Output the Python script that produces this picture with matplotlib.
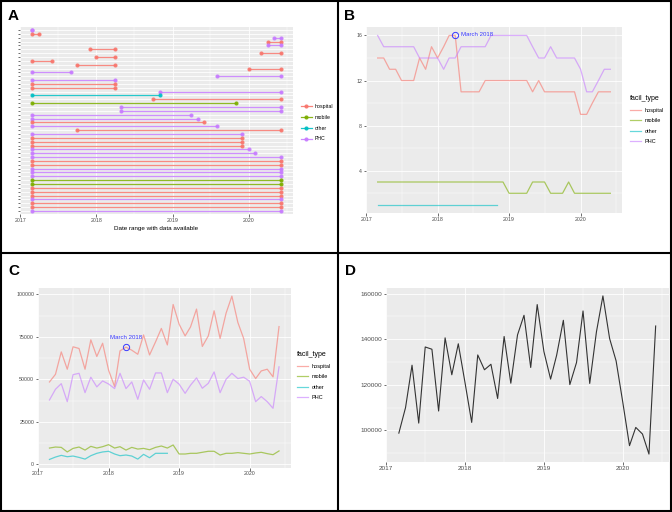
import matplotlib
matplotlib.use('Agg')
import matplotlib.pyplot as plt
import matplotlib.dates as mdates
from matplotlib.lines import Line2D
from matplotlib.patches import Rectangle
from matplotlib.ticker import MultipleLocator, FixedLocator, NullFormatter
import pandas as pd

plt.rcParams['font.family'] = ['Liberation Sans', 'DejaVu Sans']

months = pd.date_range('2017-03-01', periods=40, freq='MS')
facil_types = ['hospital', 'mobile', 'other', 'PHC']
colors = {'hospital': '#F8766D', 'mobile': '#7CAE00', 'other': '#00BFC4', 'PHC': '#C77CFF'}

# panel A: one row per facility, top to bottom
row_type = ['PHC', 'hospital', 'PHC', 'hospital', 'PHC', 'hospital', 'hospital', 'hospital',
            'hospital', 'hospital', 'hospital', 'PHC', 'PHC', 'PHC', 'hospital', 'hospital',
            'PHC', 'other', 'hospital', 'mobile', 'PHC', 'PHC', 'PHC', 'PHC',
            'hospital', 'PHC', 'hospital', 'PHC', 'hospital', 'hospital', 'hospital', 'PHC',
            'PHC', 'PHC', 'hospital', 'hospital', 'PHC', 'PHC', 'PHC', 'mobile',
            'mobile', 'hospital', 'hospital', 'hospital', 'PHC', 'hospital', 'hospital', 'PHC']
row_start = ['2017-03', '2017-03', '2020-05', '2020-04', '2020-04', '2017-12', '2020-03', '2018-01',
             '2017-03', '2017-10', '2020-01', '2017-03', '2019-08', '2017-03', '2017-03', '2017-03',
             '2018-11', '2017-03', '2018-10', '2017-03', '2018-05', '2018-05', '2017-03', '2017-03',
             '2017-03', '2017-03', '2017-10', '2017-03', '2017-03', '2017-03', '2017-03', '2017-03',
             '2017-03', '2017-03', '2017-03', '2017-03', '2017-03', '2017-03', '2017-03', '2017-03',
             '2017-03', '2017-03', '2017-03', '2017-03', '2017-03', '2017-03', '2017-03', '2017-03']
row_end = ['2017-03', '2017-04', '2020-06', '2020-06', '2020-06', '2018-04', '2020-06', '2018-04',
           '2017-06', '2018-04', '2020-06', '2017-09', '2020-06', '2018-04', '2018-04', '2018-04',
           '2020-06', '2018-11', '2020-06', '2019-11', '2020-06', '2020-06', '2019-04', '2019-05',
           '2019-06', '2019-08', '2020-06', '2019-12', '2019-12', '2019-12', '2019-12', '2020-01',
           '2020-02', '2020-06', '2020-06', '2020-06', '2020-06', '2020-06', '2020-06', '2020-06',
           '2020-06', '2020-06', '2020-06', '2020-06', '2020-06', '2020-06', '2020-06', '2020-06']

# panel B: number of facilities reporting
n_hospital = [14, 14, 13, 13, 12, 12, 12, 14, 13, 15,
              14, 15, 16, 16, 11, 11, 11, 11, 12, 12, 12, 12,
              12, 12, 12, 12, 11, 12, 11, 11, 11, 11, 11, 11,
              9, 9, 10, 11, 11, 11]
n_mobile = [3] * 22 + [2, 2, 2, 2, 3, 3, 3, 2, 2, 2, 3, 2] + [2] * 6
n_other = [1] * 21
n_phc = [16, 15, 15, 15, 15, 15, 15, 14, 14, 14,
         14, 13, 14, 14, 15, 15, 15, 15, 15, 16, 16, 16,
         16, 16, 16, 16, 15, 14, 14, 15, 14, 14, 14, 14,
         13, 11, 11, 12, 13, 13]

# panel C: visits by facility type
v_hospital = [48500, 53000, 66200, 56000, 69200, 68200, 56000, 73300, 63500, 71300,
              55400, 45800, 66800, 69000, 67200, 64800, 76200, 64400, 72100, 80000, 70300, 94100,
              82500, 75600, 80900, 91400, 69400, 75600, 90400, 74100, 89000, 99000, 83500, 74100,
              56000, 50500, 55000, 56000, 51500, 81100]
v_mobile = [9600, 10200, 10000, 7300, 9400, 10200, 8400, 10600, 9600, 10400,
            11600, 9600, 10400, 8400, 10000, 9000, 9400, 8600, 10000, 10800, 9600, 11400,
            6100, 6100, 6500, 6500, 7100, 7700, 7700, 5500, 6500, 6500, 6900, 6500,
            6100, 6700, 7100, 6300, 5700, 7900]
v_other = [2900, 4300, 5300, 4500, 4900, 4100, 3100, 5100, 6500, 7300,
           7700, 6100, 5100, 5500, 4900, 3100, 5900, 3900, 6500, 6500, 6500]
v_phc = [37900, 44200, 47500, 36900, 52800, 53600, 42200, 51300, 45600, 49100,
         47300, 44600, 53600, 44600, 48500, 38300, 49700, 44200, 53800, 53800, 42200, 50100,
         47200, 41800, 46600, 50900, 44800, 47700, 54400, 42200, 50100, 53600, 50500, 51300,
         48900, 36900, 39900, 36900, 33000, 57400]

# panel D: total visits
v_total = [98800, 110000, 128600, 103200, 136600, 135600, 108500, 140600, 124400, 138000,
           121000, 103500, 133100, 126600, 129000, 114000, 141200, 120700, 141900, 150500, 127600, 155200,
           134600, 122500, 133000, 148300, 120100, 129800, 152400, 120600, 143200, 159000, 140300, 130500,
           112300, 93300, 101300, 98400, 89600, 145800]

mark_idx = 13
mark_label = 'March 2018'
mark_color = '#3838FF'

W, H = 672, 512
fig = plt.figure(figsize=(W / 100, H / 100), dpi=100)


def box(l, t, r, b):
    return [l / W, (H - b) / H, (r - l) / W, (b - t) / H]


def expand(lo, hi, f=0.05):
    d = (hi - lo) * f
    return lo - d, hi + d


x0 = mdates.date2num(months[0])
x1 = mdates.date2num(months[-1])
xlim = expand(x0, x1)


def gg(ax, ts):
    ax.set_facecolor('#EBEBEB')
    for s in ax.spines.values():
        s.set_visible(False)
    ax.set_axisbelow(True)
    ax.grid(True, which='major', color='white', lw=0.6)
    ax.grid(True, which='minor', color='white', lw=0.3)
    ax.tick_params(which='major', length=1.8, width=0.5, color='#333333',
                   labelsize=ts, labelcolor='#4D4D4D', pad=1)
    ax.tick_params(which='minor', length=0)
    ax.xaxis.set_major_locator(mdates.YearLocator())
    ax.xaxis.set_minor_locator(mdates.MonthLocator(bymonth=7))
    ax.xaxis.set_major_formatter(mdates.DateFormatter('%Y'))
    ax.set_xlim(xlim)


def legend(ax, x, y, fs, title=None, markers=False, spacing=1.0):
    hs = [Line2D([], [], color=colors[t], lw=0.9, alpha=0.6 if not markers else 0.9,
                 marker='o' if markers else None, ms=2) for t in facil_types]
    lg = ax.legend(hs, facil_types, loc='upper left', bbox_to_anchor=(x / W, 1 - y / H),
                   bbox_transform=fig.transFigure, frameon=False, fontsize=fs,
                   title=title, title_fontsize=fs + 1, handlelength=2.0,
                   labelspacing=spacing, borderaxespad=0, borderpad=0, handletextpad=0.6)
    if title:
        lg._legend_box.align = 'left'
    return lg


# ---- A ----
axA = fig.add_axes(box(20, 27, 293, 214))
gg(axA, 3.8)
for i, (t, s, e) in enumerate(zip(row_type, row_start, row_end)):
    d = pd.to_datetime([s, e])
    axA.plot(d, [i, i], color=colors[t], lw=0.9, alpha=0.85, marker='o', ms=2)
axA.set_ylim(len(row_type) - 1 + 0.8, -0.8)
axA.yaxis.set_major_locator(FixedLocator(range(len(row_type))))
axA.yaxis.set_major_formatter(NullFormatter())
axA.set_xlabel('Date range with data available', fontsize=4.5, labelpad=2)
legend(axA, 301, 104, 3.8, markers=True, spacing=1.1)

# ---- B ----
axB = fig.add_axes(box(366, 27, 622, 213))
gg(axB, 3.8)
for t, v in zip(facil_types, [n_hospital, n_mobile, n_other, n_phc]):
    axB.plot(months[:len(v)], v, color=colors[t], lw=0.9, alpha=0.6)
axB.set_ylim(expand(min(n_other + n_mobile), max(n_hospital + n_phc)))
axB.yaxis.set_major_locator(MultipleLocator(4))
axB.yaxis.set_minor_locator(MultipleLocator(2))
axB.plot(months[mark_idx], n_hospital[mark_idx], 'o', mfc='none', mec=mark_color, ms=4.5, mew=0.7)
axB.annotate(mark_label, (months[mark_idx], n_hospital[mark_idx]), xytext=(4, 1),
             textcoords='offset points', color=mark_color, fontsize=4.4, va='center')
legend(axB, 630, 95, 4, title='facil_type', spacing=1.0)

# ---- C ----
axC = fig.add_axes(box(38, 288, 290.5, 467.6))
gg(axC, 3.8)
for t, v in zip(facil_types, [v_hospital, v_mobile, v_other, v_phc]):
    axC.plot(months[:len(v)], v, color=colors[t], lw=0.9, alpha=0.6)
axC.set_ylim(expand(min(v_other), max(v_hospital)))
axC.yaxis.set_major_locator(MultipleLocator(25000))
axC.yaxis.set_minor_locator(MultipleLocator(12500))
axC.plot(months[mark_idx], v_hospital[mark_idx], 'o', mfc='none', mec=mark_color, ms=4.5, mew=0.7)
axC.annotate(mark_label, (months[mark_idx], v_hospital[mark_idx]), xytext=(0, 7),
             textcoords='offset points', color=mark_color, fontsize=4.4, ha='center', va='center')
legend(axC, 297, 351, 4, title='facil_type', spacing=1.0)

# ---- D ----
axD = fig.add_axes(box(386, 288, 668.5, 462))
gg(axD, 4.6)
axD.plot(months, v_total, color='#333333', lw=0.8)
axD.set_ylim(expand(min(v_total), max(v_total)))
axD.yaxis.set_major_locator(MultipleLocator(20000))
axD.yaxis.set_minor_locator(MultipleLocator(10000))

# panel letters and frames
for lab, x, y in [('A', 8, 9), ('B', 344, 9), ('C', 8, 264), ('D', 345, 264)]:
    fig.text(x / W, 1 - y / H, lab, fontsize=11, fontweight='bold', va='top', ha='left')

fig.add_artist(Rectangle((0.001, 0.001), 0.998, 0.997, transform=fig.transFigure,
                         fill=False, lw=1.5, ec='black'))
fig.add_artist(Line2D([338 / W, 338 / W], [0, 1], transform=fig.transFigure, color='black', lw=1.5))
fig.add_artist(Line2D([0, 1], [1 - 253 / H, 1 - 253 / H], transform=fig.transFigure, color='black', lw=1.5))

fig.savefig('out.png', dpi=100)
